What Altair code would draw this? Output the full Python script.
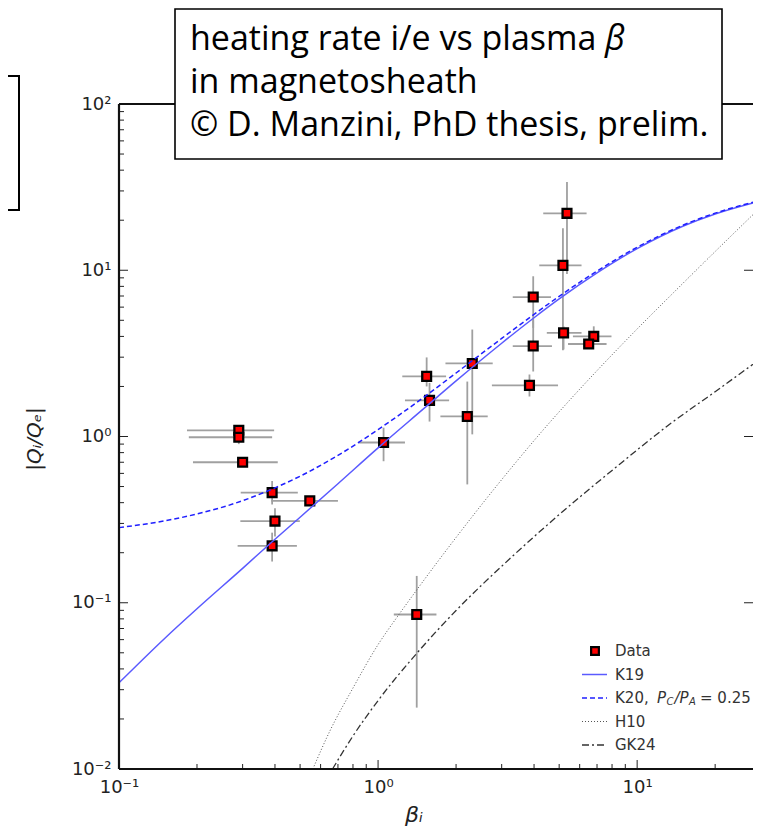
import altair as alt
import pandas as pd

# ---------------- data ----------------
beta = [0.29, 0.29, 0.30, 0.39, 0.545, 0.40, 0.39, 1.05, 1.41, 5.36, 5.17,
        3.97, 5.2, 6.8, 6.5, 3.97, 3.84, 2.31, 1.54, 1.58, 2.21]
q = [1.09, 0.99, 0.70, 0.46, 0.41, 0.31, 0.22, 0.92, 0.085, 22.0, 10.7,
     6.9, 4.2, 4.0, 3.6, 3.5, 2.03, 2.75, 2.3, 1.65, 1.32]
beta_lo = [0.183, 0.186, 0.193, 0.295, 0.387, 0.294, 0.287, 0.84, 1.15, 4.34, 4.19,
           3.31, 4.48, 5.65, 5.41, 3.31, 2.75, 1.82, 1.24, 1.27, 1.74]
beta_hi = [0.397, 0.39, 0.41, 0.49, 0.70, 0.499, 0.486, 1.27, 1.68, 6.38, 6.1,
           4.65, 6.1, 7.96, 7.62, 4.69, 4.95, 2.77, 1.83, 1.88, 2.65]
q_lo = [1.0, 0.9, 0.67, 0.39, 0.39, 0.25, 0.177, 0.71, 0.0234, 9.5, 3.3,
        4.5, 3.34, 3.7, 3.4, 2.46, 1.74, 1.03, 2.0, 1.23, 0.515]
q_hi = [1.15, 1.04, 0.73, 0.54, 0.43, 0.37, 0.264, 1.13, 0.145, 33.9, 17.9,
        9.2, 4.6, 4.6, 3.8, 5.0, 2.36, 4.4, 2.99, 2.1, 2.14]

k_beta = [0.1, 0.15, 0.2, 0.3, 0.4, 0.5, 0.7, 1.0, 1.5, 2.0, 3.0, 4.0, 5.0, 7.0,
          10.0, 15.0, 20.0, 28.0]
k19 = [0.033, 0.061, 0.092, 0.161, 0.241, 0.327, 0.52, 0.854, 1.47, 2.16, 3.64,
       5.18, 6.72, 9.64, 13.5, 18.4, 21.8, 25.4]
k20 = [0.283, 0.311, 0.342, 0.411, 0.491, 0.577, 0.77, 1.10, 1.72, 2.41, 3.89,
       5.43, 6.97, 9.89, 13.75, 18.65, 22.05, 25.65]

h10_beta = [0.56, 0.65, 0.8, 1.0, 1.2, 1.4, 1.7, 2.0, 2.6, 3.4, 4.3, 5.5, 7.0,
            9.75, 13.8, 20.0, 28.0]
h10 = [0.010, 0.0168, 0.0307, 0.056, 0.0844, 0.1176, 0.177, 0.247, 0.417, 0.698,
       1.078, 1.66, 2.49, 4.26, 7.32, 12.96, 21.6]

gk_beta = [0.667, 0.8, 1.0, 1.4, 2.0, 3.2, 5.0, 8.0, 13.5, 20.0, 28.0]
gk24 = [0.010, 0.0158, 0.0258, 0.049, 0.0898, 0.182, 0.339, 0.625, 1.2, 1.86, 2.72]

x_major = [0.1, 1, 10]
x_minor = [m * d for d in (0.1, 1) for m in range(2, 10)] + [20]
y_major = [0.01, 0.1, 1, 10, 100]
y_minor = [m * d for d in (0.01, 0.1, 1, 10) for m in range(2, 10)]

box_lines = ["heating rate i/e vs plasma", "in magnetosheath",
             "\u00a9 D. Manzini, PhD thesis, prelim."]
legend_labels = ["Data", "K19", "K20,", "H10", "GK24"]

# ---------------- layout ----------------
W, H = 634, 665
FONT = "DejaVu Sans"
BOXFONT = "Open Sans"
TXT = "#222222"

xs = alt.Scale(type="log", domain=[0.1, 28], nice=False)
ys = alt.Scale(type="log", domain=[0.01, 100], nice=False)

x_axis = alt.Axis(values=x_major,
                  labelExpr="datum.value < 0.5 ? '10\u207b\u00b9' : datum.value < 5 ? '10\u2070' : '10\u00b9'",
                  ticks=False, domain=False, grid=False, labelFont=FONT, labelFontSize=18,
                  labelColor=TXT, labelPadding=9, labelFlush=False, title=None)
y_axis = alt.Axis(values=y_major,
                  labelExpr="datum.value < 0.05 ? '10\u207b\u00b2' : datum.value < 0.5 ? '10\u207b\u00b9' : datum.value < 5 ? '10\u2070' : datum.value < 50 ? '10\u00b9' : '10\u00b2'",
                  ticks=False, domain=False, grid=False, labelFont=FONT, labelFontSize=18,
                  labelColor=TXT, labelPadding=8, labelFlush=False, title=None)


def X(f):
    return alt.X(f, type="quantitative", scale=xs, axis=x_axis)


def Y(f):
    return alt.Y(f, type="quantitative", scale=ys, axis=y_axis)


df = pd.DataFrame({"beta": beta, "q": q, "blo": beta_lo, "bhi": beta_hi,
                   "qlo": q_lo, "qhi": q_hi})
kdf = pd.DataFrame({"beta": k_beta, "k19": k19, "k20": k20})
hdf = pd.DataFrame({"beta": h10_beta, "h10": h10})
gdf = pd.DataFrame({"beta": gk_beta, "gk24": gk24})
one = pd.DataFrame({"k": [0]})

ERR = "#a0a0a0"
hbar = alt.Chart(df).mark_rule(color=ERR, strokeWidth=1.8).encode(
    x=X("blo"), x2=alt.X2("bhi"), y=Y("q"))
vbar = alt.Chart(df).mark_rule(color=ERR, strokeWidth=1.8).encode(
    x=X("beta"), y=Y("qlo"), y2=alt.Y2("qhi"))
pts = alt.Chart(df).mark_square(size=78, filled=True, fill="#ff0000", stroke="#000000",
                                strokeWidth=2.3, opacity=1).encode(x=X("beta"), y=Y("q"))

K19C = "#5a5aff"
K20C = "#2020ff"
l19 = alt.Chart(kdf).mark_line(color=K19C, strokeWidth=1.5, interpolate="monotone").encode(
    x=X("beta"), y=Y("k19"))
l20 = alt.Chart(kdf).mark_line(color=K20C, strokeWidth=1.5, strokeDash=[5, 3],
                               interpolate="monotone").encode(x=X("beta"), y=Y("k20"))
lh = alt.Chart(hdf).mark_line(color="#555555", strokeWidth=1, strokeDash=[1, 2],
                              interpolate="monotone").encode(x=X("beta"), y=Y("h10"))
lg = alt.Chart(gdf).mark_line(color="#333333", strokeWidth=1.3, strokeDash=[7, 3, 2, 3],
                              interpolate="monotone").encode(x=X("beta"), y=Y("gk24"))

# ticks (inward, matplotlib style)
xmaj = pd.DataFrame({"v": x_major})
xmin = pd.DataFrame({"v": x_minor})
ymaj = pd.DataFrame({"v": y_major})
ymin = pd.DataFrame({"v": y_minor})
TK = "#222222"
ticks = [
    alt.Chart(xmaj).mark_rule(color=TK, strokeWidth=1).encode(x=X("v"), y=alt.value(H), y2=alt.value(H - 9)),
    alt.Chart(xmin).mark_rule(color=TK, strokeWidth=1).encode(x=X("v"), y=alt.value(H), y2=alt.value(H - 5)),
    alt.Chart(xmaj).mark_rule(color=TK, strokeWidth=1).encode(x=X("v"), y=alt.value(0), y2=alt.value(9)),
    alt.Chart(xmin).mark_rule(color=TK, strokeWidth=1).encode(x=X("v"), y=alt.value(0), y2=alt.value(5)),
    alt.Chart(ymaj).mark_rule(color=TK, strokeWidth=1).encode(y=Y("v"), x=alt.value(0), x2=alt.value(9)),
    alt.Chart(ymin).mark_rule(color=TK, strokeWidth=1).encode(y=Y("v"), x=alt.value(0), x2=alt.value(5)),
    alt.Chart(ymaj).mark_rule(color=TK, strokeWidth=1).encode(y=Y("v"), x=alt.value(W), x2=alt.value(W - 9)),
]

# spines
SP = "#111111"
spines = [
    alt.Chart(one).mark_rule(color=SP, strokeWidth=2.2).encode(x=alt.value(0), y=alt.value(0), y2=alt.value(H)),
    alt.Chart(one).mark_rule(color=SP, strokeWidth=2.2).encode(y=alt.value(H), x=alt.value(0), x2=alt.value(W)),
    alt.Chart(one).mark_rule(color=SP, strokeWidth=2.2).encode(y=alt.value(0), x=alt.value(0), x2=alt.value(W)),
]

# axis titles
titles = [
    alt.Chart(one).mark_text(text="\u03b2\u1d62", font=FONT, fontSize=22, fontStyle="italic",
                             color=TXT, align="center", baseline="middle").encode(
        x=alt.value(295), y=alt.value(711)),
    alt.Chart(one).mark_text(text="|Q\u1d62/Q\u2091|", font=FONT, fontSize=20, fontStyle="italic",
                             color=TXT, angle=270, align="center", baseline="middle").encode(
        x=alt.value(-84), y=alt.value(335)),
]

# legend (manual, matplotlib style)
LX, LY0, LDY = 496, 547, 23.5
LFS = 15
LCOL = "#333333"
legend = [
    alt.Chart(one).mark_square(size=60, filled=True, fill="#ff0000", stroke="#000000",
                               strokeWidth=2.2, opacity=1).encode(x=alt.value(476), y=alt.value(LY0)),
    alt.Chart(one).mark_rule(color=K19C, strokeWidth=1.5).encode(
        x=alt.value(463), x2=alt.value(488), y=alt.value(LY0 + LDY)),
    alt.Chart(one).mark_rule(color=K20C, strokeWidth=1.5, strokeDash=[5, 3]).encode(
        x=alt.value(463), x2=alt.value(488), y=alt.value(LY0 + 2 * LDY)),
    alt.Chart(one).mark_rule(color="#555555", strokeWidth=1, strokeDash=[1, 2]).encode(
        x=alt.value(463), x2=alt.value(488), y=alt.value(LY0 + 3 * LDY)),
    alt.Chart(one).mark_rule(color="#333333", strokeWidth=1.3, strokeDash=[7, 3, 2, 3]).encode(
        x=alt.value(463), x2=alt.value(488), y=alt.value(LY0 + 4 * LDY)),
]
for i, lab in enumerate(legend_labels):
    legend.append(alt.Chart(one).mark_text(text=lab, font=FONT, fontSize=LFS, color=LCOL,
                                           align="left", baseline="middle").encode(
        x=alt.value(LX), y=alt.value(LY0 + i * LDY)))
ky = LY0 + 2 * LDY
pieces = [("P", 538, 0, LFS, "italic"), ("C", 547.5, 4, 10, "italic"), ("/", 555.5, 0, LFS, "italic"),
          ("P", 560.5, 0, LFS, "italic"), ("A", 570, 4, 10, "italic"), ("= 0.25", 581, 0, LFS, "normal")]
for t, px, dy, fs, st in pieces:
    legend.append(alt.Chart(one).mark_text(text=t, font=FONT, fontSize=fs, fontStyle=st, color=LCOL,
                                           align="left", baseline="middle").encode(
        x=alt.value(px), y=alt.value(ky + dy)))

# annotation boxes
boxes = [
    alt.Chart(one).mark_rect(fill="white", stroke="black", strokeWidth=2).encode(
        x=alt.value(-130), x2=alt.value(-100), y=alt.value(-28), y2=alt.value(106)),
    alt.Chart(one).mark_rect(fill="white", stroke="black", strokeWidth=1.6).encode(
        x=alt.value(56), x2=alt.value(603), y=alt.value(-95), y2=alt.value(55)),
]
box_y = [-54, -11, 32]
for t, yy in zip(box_lines, box_y):
    boxes.append(alt.Chart(one).mark_text(text=t, font=BOXFONT, fontSize=34, color="#000000",
                                          align="left", baseline="alphabetic").encode(
        x=alt.value(71), y=alt.value(yy)))
boxes.append(alt.Chart(one).mark_text(text="\u03b2", font=BOXFONT, fontSize=34, fontStyle="italic",
                                      color="#000000", align="left", baseline="alphabetic").encode(
    x=alt.value(486), y=alt.value(-54)))

chart = alt.layer(
    hbar, vbar, pts, l19, l20, lh, lg, *ticks, *spines, *titles, *legend, *boxes
).properties(
    width=W, height=H,
    padding={"left": 111, "top": 96, "right": 0, "bottom": 60},
    autosize="none",
).configure_view(strokeWidth=0).configure(background="white")

chart.save("out.html", embed_options={"renderer": "svg", "actions": False})
